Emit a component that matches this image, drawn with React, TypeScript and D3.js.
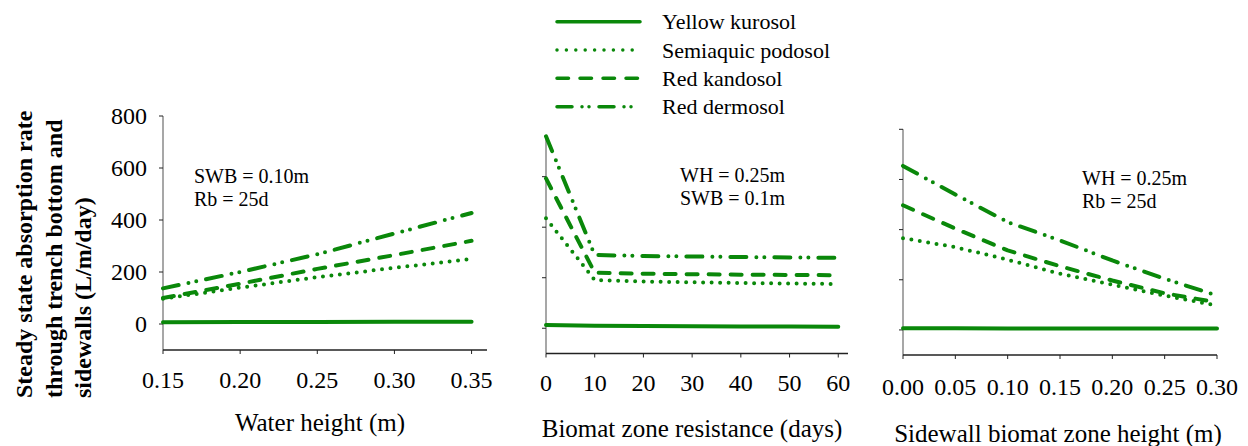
import React from "react";
import * as d3 from "d3";

// legend / series names
const soils = ["Yellow kurosol", "Semiaquic podosol", "Red kandosol", "Red dermosol"];

// panel 1: water height
const waterHeight = [0.15, 0.2, 0.25, 0.3, 0.35];
const whKurosol = [7, 8, 8, 9, 9];
const whPodosol = [97, 140, 180, 216, 250];
const whKandosol = [100, 155, 212, 265, 320];
const whDermosol = [137, 200, 268, 348, 427];
const whTicks = [0.15, 0.2, 0.25, 0.3, 0.35];

// panel 2: biomat zone resistance
const resistance = [0, 10, 20, 30, 40, 50, 60];
const rbKurosol = [13, 10, 9, 8, 7, 7, 6];
const rbPodosol = [435, 191, 185, 182, 179, 177, 175];
const rbKandosol = [593, 220, 216, 214, 212, 211, 210];
const rbDermosol = [760, 290, 286, 284, 282, 280, 279];
const rbTicks = [0, 10, 20, 30, 40, 50, 60];

// panel 3: sidewall biomat zone height
const sidewall = [0, 0.05, 0.1, 0.15, 0.2, 0.25, 0.3];
const swKurosol = [7, 7, 6, 6, 6, 6, 6];
const swPodosol = [366, 330, 280, 224, 180, 137, 97];
const swKandosol = [497, 404, 317, 254, 197, 146, 110];
const swDermosol = [654, 540, 430, 357, 277, 204, 137];
const swTicks = [0, 0.05, 0.1, 0.15, 0.2, 0.25, 0.3];

const yTicks = [0, 200, 400, 600, 800];

const GREEN = "#0a880a";
const FONT = "'Liberation Serif', 'Times New Roman', serif";
// round caps, so dots are zero-length dashes
const dashes = ["none", "0,8.5", "11,11", "16,10,0,8,0,10"];
const legendDashes = ["none", "0,9.4", "11.5,11.5", "15,10,0,7,0,10"];

type Panel = {
  xs: number[];
  series: number[][];
  xDomain: [number, number];
  yDomain: [number, number];
  left: number;
  right: number;
  top: number;
  bottom: number;
  xTicks: number[];
  xFmt: (v: number) => string;
  showYLabels: boolean;
  xTitle: string;
  titleY: number;
  titleX: number;
  labelY: number;
  note: string[];
  noteX: number;
  noteY: number;
};

const panels: Panel[] = [
  {
    xs: waterHeight,
    series: [whKurosol, whPodosol, whKandosol, whDermosol],
    xDomain: [0.15, 0.36],
    yDomain: [-100, 800],
    left: 163,
    right: 487,
    top: 116,
    bottom: 350,
    xTicks: whTicks,
    xFmt: d3.format(".2f"),
    showYLabels: true,
    xTitle: "Water height (m)",
    titleX: 320,
    titleY: 422,
    labelY: 380,
    note: ["SWB = 0.10m", "Rb = 25d"],
    noteX: 194,
    noteY: 183,
  },
  {
    xs: resistance,
    series: [rbKurosol, rbPodosol, rbKandosol, rbDermosol],
    xDomain: [0, 62],
    yDomain: [-100, 765],
    left: 546,
    right: 848,
    top: 135,
    bottom: 353.5,
    xTicks: rbTicks,
    xFmt: d3.format("d"),
    showYLabels: false,
    xTitle: "Biomat zone resistance (days)",
    titleX: 692,
    titleY: 428,
    labelY: 383,
    note: ["WH = 0.25m", "SWB = 0.1m"],
    noteX: 680,
    noteY: 182,
  },
  {
    xs: sidewall,
    series: [swKurosol, swPodosol, swKandosol, swDermosol],
    xDomain: [0, 0.3],
    yDomain: [-100, 800],
    left: 903,
    right: 1217,
    top: 129.3,
    bottom: 355,
    xTicks: swTicks,
    xFmt: d3.format(".2f"),
    showYLabels: false,
    xTitle: "Sidewall biomat zone height (m)",
    titleX: 1058,
    titleY: 433,
    labelY: 387,
    note: ["WH = 0.25m", "Rb = 25d"],
    noteX: 1082,
    noteY: 185,
  },
];

function PanelView({ p }: { p: Panel }) {
  const x = d3.scaleLinear().domain(p.xDomain).range([p.left, p.right]);
  const y = d3.scaleLinear().domain(p.yDomain).range([p.bottom, p.top]);
  const ticks = yTicks.filter((t) => t <= p.yDomain[1]);
  const line = d3
    .line<number>()
    .x((_, i) => x(p.xs[i]))
    .y((d) => y(d));

  return (
    <g>
      {/* y axis */}
      <line x1={p.left} x2={p.left} y1={p.top} y2={p.bottom} stroke="#8a8a8a" strokeWidth={1.5} />
      {ticks.map((t) => (
        <g key={t}>
          <line x1={p.left - 4} x2={p.left} y1={y(t)} y2={y(t)} stroke="#222" strokeWidth={1} />
          {p.showYLabels && (
            <text x={147} y={y(t)} textAnchor="end" dominantBaseline="central" fontSize={24}>
              {t}
            </text>
          )}
        </g>
      ))}
      {/* x axis */}
      <line x1={p.left} x2={p.right} y1={p.bottom} y2={p.bottom} stroke="#222" strokeWidth={1.5} />
      {p.xTicks.map((t) => (
        <g key={t}>
          <line x1={x(t)} x2={x(t)} y1={p.bottom} y2={p.bottom + 4} stroke="#222" strokeWidth={1} />
          <text x={x(t)} y={p.labelY} textAnchor="middle" dominantBaseline="central" fontSize={24}>
            {p.xFmt(t)}
          </text>
        </g>
      ))}
      <text x={p.titleX} y={p.titleY} textAnchor="middle" dominantBaseline="central" fontSize={25}>
        {p.xTitle}
      </text>
      {p.note.map((s, i) => (
        <text key={s} x={p.noteX} y={p.noteY + i * 22.5} fontSize={20}>
          {s}
        </text>
      ))}
      {p.series.map((s, i) => (
        <path
          key={i}
          d={line(s) ?? ""}
          fill="none"
          stroke={GREEN}
          strokeWidth={4}
          strokeLinecap="round"
          strokeLinejoin="round"
          strokeDasharray={dashes[i]}
        />
      ))}
    </g>
  );
}

export default function App() {
  const legendY = d3.scalePoint<string>().domain(soils).range([21.7, 106.7]);
  return (
    <svg
      width={1248}
      height={446}
      style={{ position: "absolute", left: 0, top: 0, background: "#fff", fontFamily: FONT }}
    >
      {/* y axis title */}
      <g fontWeight="bold" fontSize={24}>
        {["Steady state absorption rate", "through trench bottom and", "sidewalls (L/m/day)"].map((s, i) => (
          <text key={s} transform={`translate(${32 + i * 29.5},398) rotate(-90)`}>
            {s}
          </text>
        ))}
      </g>
      {panels.map((p, i) => (
        <PanelView key={i} p={p} />
      ))}
      {/* legend */}
      {soils.map((s, i) => (
        <g key={s}>
          <line
            x1={557}
            x2={640}
            y1={legendY(s)}
            y2={legendY(s)}
            stroke={GREEN}
            strokeWidth={3.5}
            strokeLinecap="round"
            strokeDasharray={legendDashes[i]}
          />
          <text x={662} y={legendY(s)} dominantBaseline="central" fontSize={22}>
            {s}
          </text>
        </g>
      ))}
    </svg>
  );
}
